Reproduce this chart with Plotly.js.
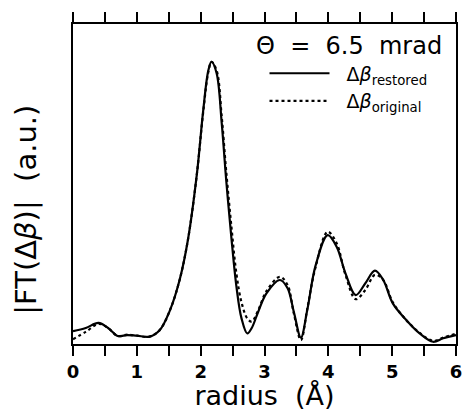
<!DOCTYPE html>
<html>
<head>
<meta charset="utf-8">
<script src="https://cdn.plot.ly/plotly-3.0.1.min.js"></script>
<style>html,body{margin:0;padding:0;background:#fff;}#chart{width:462px;height:411px;}</style>
</head>
<body>
<div id="chart"></div>
<script>
const radius = [0, 0.2, 0.4, 0.55, 0.7, 0.85, 1.0, 1.2, 1.36, 1.52, 1.67, 1.8, 1.94, 2.04, 2.12, 2.17, 2.25, 2.33, 2.4, 2.48, 2.56, 2.64, 2.73, 2.8, 2.9, 3.03, 3.24, 3.36, 3.46, 3.57, 3.67, 3.8, 3.99, 4.13, 4.27, 4.43, 4.58, 4.73, 4.86, 5.01, 5.22, 5.43, 5.64, 5.8, 6.0];
const restored = [4.0, 5.0, 6.6, 5.0, 2.5, 2.8, 2.6, 2.3, 4.4, 10.6, 20, 32.5, 53, 73, 85.5, 88.2, 84.6, 69, 51.3, 33.5, 18, 8, 3.3, 5.0, 10, 15.8, 20, 17.5, 10, 2.0, 10.6, 24.5, 34, 30.4, 22, 15.3, 19, 22.9, 20, 12.7, 7.5, 3.3, 0.7, 1.8, 2.8];
const original = [1.5, 3.8, 6.3, 5.0, 2.5, 2.9, 2.6, 2.3, 4.4, 10.6, 20, 32.5, 53, 72.5, 85, 88.2, 85.5, 71, 54, 37, 22, 13, 8.0, 7.0, 10.5, 16.5, 21, 18.5, 9.5, 1.2, 11, 24, 35.1, 31.5, 21.5, 14, 16.9, 21.6, 20, 13, 7.5, 3.5, 1.0, 2.0, 3.2];
const tickValues = [0, 1, 2, 3, 4, 5, 6];
const tickLabels = ['0', '1', '2', '3', '4', '5', '6'];

const FONT = 'DejaVu Sans, sans-serif';

const traces = [
  {x: radius, y: restored, type: 'scatter', mode: 'lines', name: '\u00a0\u00a0Δ<i>β</i><sub>restored</sub>',
   line: {color: '#000', width: 2.2, shape: 'spline', smoothing: 1}},
  {x: radius, y: original, type: 'scatter', mode: 'lines', name: '\u00a0\u00a0Δ<i>β</i><sub>original</sub>',
   line: {color: '#000', width: 2.2, dash: 'dot', shape: 'spline', smoothing: 1}}
];

const layout = {
  width: 462, height: 411,
  margin: {l: 73, r: 6, t: 24, b: 67},
  paper_bgcolor: '#fff', plot_bgcolor: '#fff',
  font: {family: FONT, color: '#000'},
  showlegend: true,
  legend: {x: 0.5, y: 0.905, xanchor: 'left', yanchor: 'top', bgcolor: 'rgba(0,0,0,0)',
           font: {size: 19, family: FONT}, itemwidth: 60, tracegroupgap: 0},
  xaxis: {
    range: [0, 6], tickmode: 'array', tickvals: tickValues, ticktext: tickLabels,
    ticks: 'outside', ticklen: 10, tickwidth: 2, tickcolor: '#000',
    minor: {dtick: 0.5, tick0: 0, ticks: 'outside', ticklen: 10, tickwidth: 2, tickcolor: '#000', showgrid: false},
    showline: true, linewidth: 2, linecolor: '#000', mirror: 'allticks',
    showgrid: false, zeroline: false, ticklabeloverflow: 'allow',
    tickfont: {size: 18, family: FONT, weight: 'bold'},
    title: {text: 'radius  (Å)', font: {size: 27, family: FONT}, standoff: 4}
  },
  yaxis: {
    range: [0, 100], showticklabels: false, ticks: '',
    showline: true, linewidth: 2, linecolor: '#000', mirror: true,
    showgrid: false, zeroline: false
  },
  annotations: [
    {text: 'Θ  =  6.5  mrad', xref: 'paper', yref: 'paper', x: 0.968, y: 0.93,
     xanchor: 'right', yanchor: 'middle', showarrow: false, font: {size: 24, family: FONT}},
    {text: '|FT(Δ<i>β</i>)|  (a.u.)', xref: 'paper', yref: 'paper', x: -0.125, y: 0.42,
     xanchor: 'center', yanchor: 'middle', textangle: -90, showarrow: false, font: {size: 29, family: FONT}}
  ]
};

Plotly.newPlot('chart', traces, layout, {displayModeBar: false, staticPlot: true});
</script>
</body>
</html>
